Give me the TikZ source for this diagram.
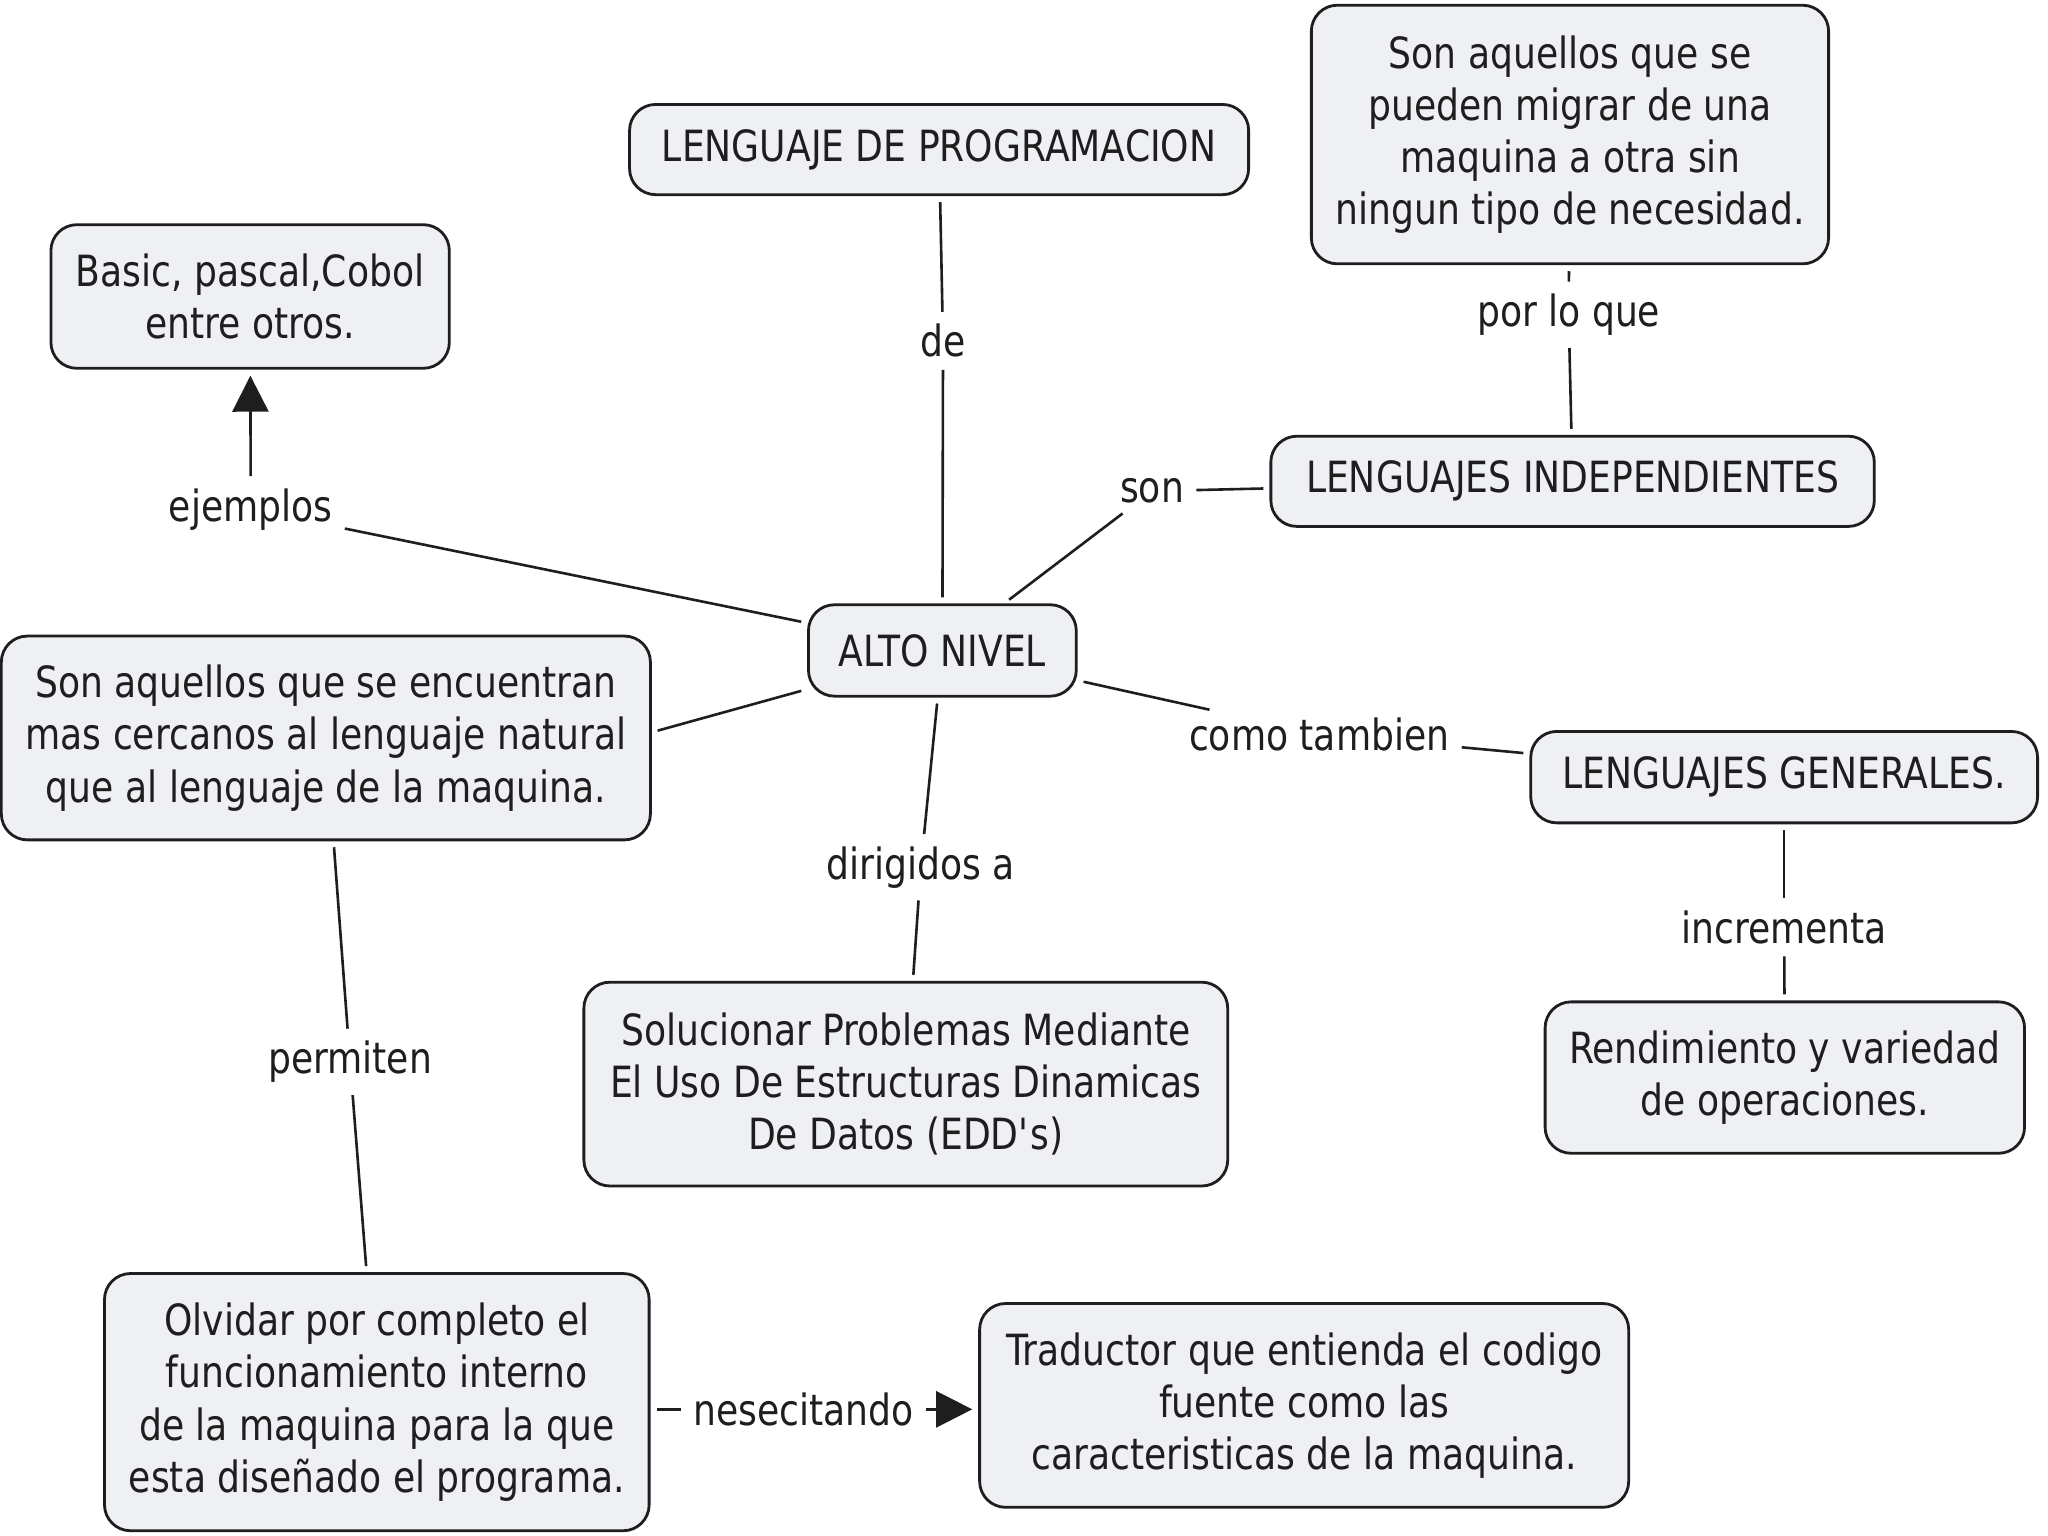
\documentclass[tikz,border=0pt]{standalone}
\usepackage{fontspec}
\setmainfont{DejaVu Sans}[FakeStretch=0.84]
\usetikzlibrary{arrows.meta}
\definecolor{boxfill}{HTML}{EEF0F4}
\definecolor{ink}{HTML}{1E1E1E}
\begin{document}
\begin{tikzpicture}[x=0.653pt,y=-0.653pt,
  box/.style={draw=ink, line width=1.4pt, fill=boxfill, rounded corners=13pt, align=center, inner sep=0pt, font=\fontsize{21.5}{26.1}\selectfont, text=ink},
  lbl/.style={font=\fontsize{21.5}{26.1}\selectfont, text=ink, inner sep=3pt},
  conn/.style={draw=ink, line width=1.3pt, shorten <=3pt, shorten >=3pt},
  arr/.style={conn, -{Triangle[length=18pt,width=18pt]}}
]
\useasboundingbox (0,0) rectangle (1568,1176);
\fill[white] (0,0) rectangle (1568,1176);

\node[box, minimum width=309.5pt, minimum height=45.1pt] (LP) at (719,114.5) {LENGUAJE DE PROGRAMACION};
\node[box, minimum width=258.6pt, minimum height=129.3pt] (SA1) at (1202,103) {Son aquellos que se\\pueden migrar de una\\maquina a otra sin\\ningun tipo de necesidad.};
\node[box, minimum width=199.2pt, minimum height=71.8pt] (BAS) at (191.5,227) {Basic, pascal,Cobol\\entre otros.};
\node[box, minimum width=301.7pt, minimum height=45.1pt] (LI) at (1204,368.5) {LENGUAJES INDEPENDIENTES};
\node[box, minimum width=133.9pt, minimum height=45.7pt] (AN) at (721.5,498) {ALTO NIVEL};
\node[box, minimum width=324.5pt, minimum height=101.9pt] (SA2) at (249.5,565) {Son aquellos que se encuentran\\mas cercanos al lenguaje natural\\que al lenguaje de la maquina.};
\node[box, minimum width=253.4pt, minimum height=45.7pt] (LG) at (1366,595) {LENGUAJES GENERALES.};
\node[box, minimum width=321.9pt, minimum height=101.9pt] (SOL) at (693.5,830) {Solucionar Problemas Mediante\\El Uso De Estructuras Dinamicas\\De Datos (EDD\textquotesingle s)};
\node[box, minimum width=239.7pt, minimum height=75.7pt] (REN) at (1366.5,825) {Rendimiento y variedad\\de operaciones.};
\node[box, minimum width=272.3pt, minimum height=128.6pt] (OLV) at (288.5,1073.5) {Olvidar por completo el\\funcionamiento interno\\de la maquina para la que\\esta diseñado el programa.};
\node[box, minimum width=324.5pt, minimum height=101.9pt] (TRA) at (998.5,1076) {Traductor que entienda el codigo\\fuente como las\\caracteristicas de la maquina.};

\node[lbl] (de) at (722,261) {de};
\node[lbl] (por) at (1201,241) {por lo que};
\node[lbl] (son) at (882,376) {son};
\node[lbl] (ej) at (192,390) {ejemplos};
\node[lbl] (como) at (1010,562) {como tambien};
\node[lbl] (dir) at (705,664) {dirigidos a};
\node[lbl] (inc) at (1366,710) {incrementa};
\node[lbl] (perm) at (268,813) {permiten};
\node[lbl] (nes) at (615,1079) {nesecitando};

\draw[conn] (LP) -- (de);
\draw[conn] (de) -- (AN);
\draw[conn] (SA1) -- (por);
\draw[conn] (por) -- (LI);
\draw[conn] (AN) -- (son);
\draw[conn] (son) -- (LI);
\draw[conn] (ej) -- (AN);
\draw[arr] (ej) -- (BAS);
\draw[conn] (AN.196) -- (SA2.1);
\draw[conn] (AN) -- (como);
\draw[conn] (como) -- (LG);
\draw[conn] (AN) -- (dir);
\draw[conn] (dir) -- (SOL);
\draw[conn] (LG) -- (inc);
\draw[conn] (inc) -- (REN);
\draw[conn] (SA2) -- (perm);
\draw[conn] (perm) -- (OLV);
\draw[conn] (OLV.east |- nes.west) -- (nes.west);
\draw[arr] (nes.east) -- (TRA.west |- nes.east);
\end{tikzpicture}
\end{document}
